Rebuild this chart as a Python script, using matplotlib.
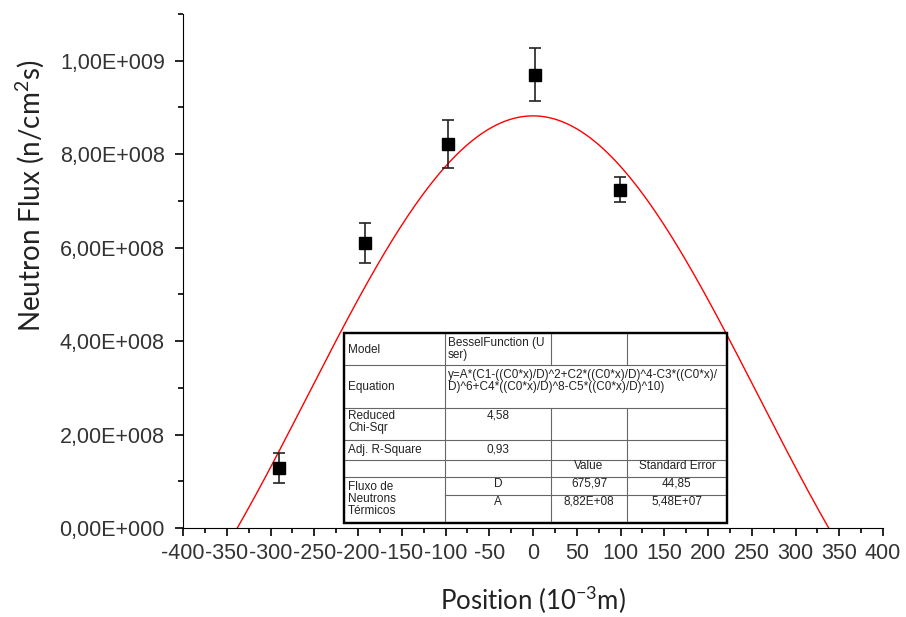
import numpy as np
import matplotlib.pyplot as plt
from matplotlib.lines import Line2D
from matplotlib.ticker import FuncFormatter, MultipleLocator

plt.rcParams['mathtext.default'] = 'regular'

# measured points
position = [-290, -192, -97, 2, 99]
flux = [1.29e8, 6.10e8, 8.22e8, 9.70e8, 7.24e8]
flux_err = [3.2e7, 4.2e7, 5.2e7, 5.7e7, 2.7e7]

# fit parameters (Bessel series)
A = 8.82e8
D = 675.97
C0 = 2.405
C = [1, 1 / 4, 1 / 36, 1 / 576, 1 / 14400]

W, H = 906, 617
fig = plt.figure(figsize=(W / 100, H / 100), dpi=100)
ax = fig.add_axes([183 / W, 1 - 528 / H, 700 / W, 514 / H])

x = np.linspace(-338, 338, 400)
u = C0 * x / D
y = A * (C[0] - u**2 + C[1] * u**4 - C[2] * u**6 + C[3] * u**8 - C[4] * u**10)
ax.plot(x, y, color='red', lw=1)

ax.errorbar(position, flux, yerr=flux_err, fmt='s', color='black', ms=8.5,
            ecolor='#222222', elinewidth=1.2, capsize=4.5, capthick=1.2)

ax.set_xlim(-400, 400)
ax.set_ylim(0, 1.1e9)
ax.xaxis.set_major_locator(MultipleLocator(50))
ax.xaxis.set_minor_locator(MultipleLocator(25))
ax.yaxis.set_major_locator(MultipleLocator(2e8))
ax.yaxis.set_minor_locator(MultipleLocator(1e8))


def sci(v, pos):
    if v == 0:
        return '0,00E+000'
    e = int(np.floor(np.log10(abs(v))))
    return f'{v / 10**e:.2f}E+{e:03d}'.replace('.', ',')


ax.yaxis.set_major_formatter(FuncFormatter(sci))
ax.xaxis.set_major_formatter(FuncFormatter(lambda v, p: f'{v:.0f}'))
for s in ['top', 'right']:
    ax.spines[s].set_visible(False)
ax.tick_params(which='major', length=6, width=1.2, direction='out', labelsize=15.5,
               labelcolor='#333333')
ax.tick_params(which='minor', length=3.5, width=1.2, direction='out')
ax.tick_params(axis='x', pad=5)
ax.tick_params(axis='y', pad=7)
for lab in ax.get_xticklabels() + ax.get_yticklabels():
    lab.set_family('Liberation Sans')

ax.set_xlabel('Position (10$^{-3}$m)', fontsize=18.5, family='Lato', color='#222222')
ax.set_ylabel('Neutron Flux (n/cm$^2$s)', fontsize=20, family='Lato', color='#222222')
ax.xaxis.set_label_coords(0.5, -(600 - 528) / 514, transform=ax.transAxes)
ax.yaxis.set_label_coords((30 - 183) / 700, (528 - 196) / 514, transform=ax.transAxes)
ax.xaxis.label.set_va('center')
ax.yaxis.label.set_va('center')


# fit results box, drawn in figure pixels
def fx(px):
    return px / W


def fy(py):
    return 1 - py / H


def hline(x0, x1, yy, lw=0.8):
    fig.add_artist(Line2D([fx(x0), fx(x1)], [fy(yy), fy(yy)], color='#666666', lw=lw, zorder=6))


def vline(xx, y0, y1, lw=0.8):
    fig.add_artist(Line2D([fx(xx), fx(xx)], [fy(y0), fy(y1)], color='#666666', lw=lw, zorder=6))


L, R, T, B = 344, 727, 333, 523
c1, c2, c3 = 445, 551, 627
fig.patches.append(plt.Rectangle((fx(L), fy(B)), fx(R) - fx(L), fy(T) - fy(B),
                                 transform=fig.transFigure, facecolor='white',
                                 edgecolor='black', lw=1.6, zorder=5))
for yy in [365, 408, 440, 460, 477]:
    hline(L, R, yy)
hline(c1, R, 495)
vline(c1, T, B)
vline(c2, T, 365)
vline(c3, T, 365)
vline(c2, 408, B)
vline(c3, 408, B)
fig.patches.append(plt.Rectangle((fx(L), fy(B)), fx(R) - fx(L), fy(T) - fy(B),
                                 transform=fig.transFigure, facecolor='none',
                                 edgecolor='black', lw=1.6, zorder=7))


def txt(px, py, s, ha='left'):
    fig.text(fx(px), fy(py), s, fontsize=8.5, family='Liberation Sans', ha=ha, va='center',
             color='#222222', linespacing=1.05, zorder=8)


txt(348, 350, 'Model')
txt(448, 349, 'BesselFunction (U\nser)')
txt(348, 387, 'Equation')
txt(448, 381, 'y=A*(C1-((C0*x)/D)^2+C2*((C0*x)/D)^4-C3*((C0*x)/\n'
              'D)^6+C4*((C0*x)/D)^8-C5*((C0*x)/D)^10)')
txt(348, 422, 'Reduced\nChi-Sqr')
txt(498, 415, '4,58', ha='center')
txt(348, 450, 'Adj. R-Square')
txt(498, 449, '0,93', ha='center')
txt(589, 466, 'Value', ha='center')
txt(677, 466, 'Standard Error', ha='center')
txt(348, 499, 'Fluxo de\nNeutrons\nTérmicos')
txt(498, 484, 'D', ha='center')
txt(589, 484, '675,97', ha='center')
txt(677, 484, '44,85', ha='center')
txt(498, 502, 'A', ha='center')
txt(589, 502, '8,82E+08', ha='center')
txt(677, 502, '5,48E+07', ha='center')

fig.savefig('out.png', dpi=100)
